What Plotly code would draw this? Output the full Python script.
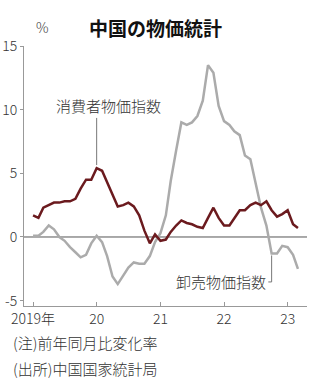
import plotly.graph_objects as go
import pandas as pd

months = pd.date_range("2019-01-01", periods=51, freq="MS")
cpi = [1.7, 1.5, 2.3, 2.5, 2.7, 2.7, 2.8, 2.8, 3.0, 3.8, 4.5, 4.5,
       5.4, 5.2, 4.3, 3.3, 2.4, 2.5, 2.7, 2.4, 1.7, 0.5, -0.5, 0.2,
       -0.3, -0.2, 0.4, 0.9, 1.3, 1.1, 1.0, 0.8, 0.7, 1.5, 2.3, 1.5,
       0.9, 0.9, 1.5, 2.1, 2.1, 2.5, 2.7, 2.5, 2.8, 2.1, 1.6, 1.8,
       2.1, 1.0, 0.7]
ppi = [0.1, 0.1, 0.4, 0.9, 0.6, 0.0, -0.3, -0.8, -1.2, -1.6, -1.4, -0.5,
       0.1, -0.4, -1.5, -3.1, -3.7, -3.0, -2.4, -2.0, -2.1, -2.1, -1.5, -0.4,
       0.3, 1.7, 4.4, 6.8, 9.0, 8.8, 9.0, 9.5, 10.7, 13.5, 12.9, 10.3,
       9.1, 8.8, 8.3, 8.0, 6.4, 6.1, 4.2, 2.3, 0.9, -1.3, -1.3, -0.7,
       -0.8, -1.4, -2.5]
xtick_vals = ["2019-01-01", "2020-01-01", "2021-01-01", "2022-01-01", "2023-01-01"]
xtick_text = ["2019年", "20", "21", "22", "23"]
ytick_vals = [-5, 0, 5, 10, 15]

FONT = "Noto Sans CJK JP"
LIGHT = 300
L, T, R, B = 24, 46, 16, 79
W, H = 323, 385
PW, PH = W - L - R, H - T - B


def px(x):
    return (x - L) / PW


def py(y):
    return (H - B - y) / PH


def lf(size, color="#333333"):
    return dict(family=FONT, size=size, color=color, weight=LIGHT)


fig = go.Figure()
fig.add_trace(go.Scatter(x=months, y=ppi, mode="lines",
                         line=dict(color="#ababab", width=2.5), showlegend=False))
fig.add_trace(go.Scatter(x=months, y=cpi, mode="lines",
                         line=dict(color="#6b1a1e", width=2.5), showlegend=False))

# zero line
fig.add_shape(type="line", xref="paper", yref="y", x0=0, x1=1, y0=0, y1=0,
              line=dict(color="#555555", width=1), layer="below")
# leader lines
fig.add_shape(type="line", x0="2020-01-01", x1="2020-01-01", y0=5.65, y1=9.35,
              line=dict(color="#777777", width=1))
fig.add_shape(type="line", x0="2022-10-01", x1="2022-10-01", y0=-3.53, y1=-1.45,
              line=dict(color="#777777", width=1))
fig.add_shape(type="line", x0="2022-09-12", x1="2022-10-01", y0=-3.53, y1=-3.53,
              line=dict(color="#777777", width=1))

fig.add_annotation(x="2020-03-10", y=10.35, text="消費者物価指数", showarrow=False,
                   font=lf(15), xanchor="center", yanchor="middle")
fig.add_annotation(x="2022-09-10", y=-3.53, text="卸売物価指数", showarrow=False,
                   font=lf(15), xanchor="right", yanchor="middle")

fig.add_annotation(xref="paper", yref="paper", x=px(155), y=py(27), yanchor="middle",
                   xanchor="center", text="<b>中国の物価統計</b>", showarrow=False,
                   font=dict(family=FONT, size=19, color="#111111"))
fig.add_annotation(xref="paper", yref="paper", x=px(42), y=py(27), yanchor="middle",
                   xanchor="center", text="%", showarrow=False,
                   font=lf(14, "#444444"))
fig.add_annotation(xref="paper", yref="paper", x=px(11), y=py(342), yanchor="middle",
                   xanchor="left", text="(注)前年同月比変化率", showarrow=False,
                   font=lf(15))
fig.add_annotation(xref="paper", yref="paper", x=px(11), y=py(368), yanchor="middle",
                   xanchor="left", text="(出所)中国国家統計局", showarrow=False,
                   font=lf(15))

fig.update_layout(
    width=W, height=H,
    margin=dict(l=L, r=R, t=T, b=B),
    paper_bgcolor="white", plot_bgcolor="white",
    font=dict(family=FONT, size=14, color="#333333"),
    xaxis=dict(type="date", range=["2018-11-10", "2023-04-22"],
               tickvals=xtick_vals, ticktext=xtick_text, automargin=False,
               showgrid=False, zeroline=False, showline=True, linecolor="#999999", linewidth=1,
               ticks="inside", ticklen=4, tickcolor="#999999",
               tickfont=lf(14)),
    yaxis=dict(range=[-5.42, 15], tickvals=ytick_vals, ticktext=["-5", "0", "5", "10", "15"],
               automargin=False,
               showgrid=False, zeroline=False, showline=True, linecolor="#999999", linewidth=1,
               ticks="outside", ticklen=3, tickcolor="#999999",
               tickfont=lf(14)),
)
fig.write_html("out.html")
